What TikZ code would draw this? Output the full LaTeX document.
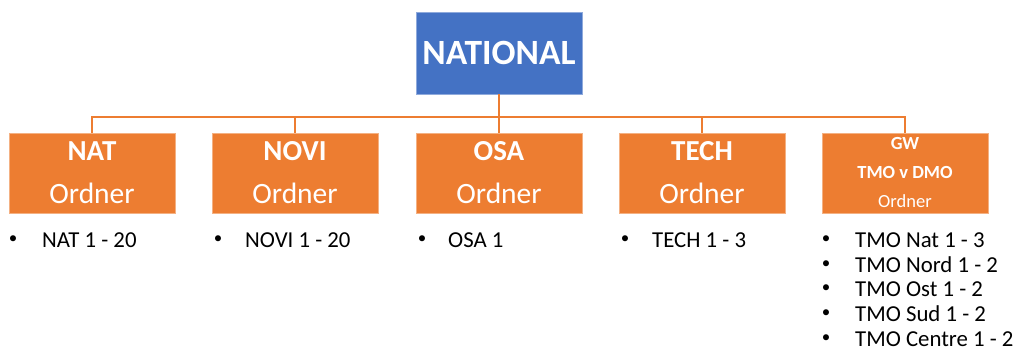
\documentclass[tikz,border=0pt]{standalone}
\usepackage{fontspec}
\setmainfont{Carlito}
\definecolor{orng}{HTML}{ED7D31}
\definecolor{blu}{HTML}{4472C4}
\begin{document}
\begin{tikzpicture}[x=1pt,y=-1pt,
  topbox/.style={fill=blu,draw=blu!60!white,line width=0.8pt,minimum width=166pt,minimum height=82pt,inner sep=0pt},
  subbox/.style={fill=orng,draw=orng!60!white,line width=0.8pt,minimum width=166pt,minimum height=80pt,inner sep=0pt},
  conn/.style={draw=orng,line width=1.5pt},
  head/.style={text=white,font=\bfseries\fontsize{29}{31}\selectfont,inner sep=0pt},
  sub/.style={text=white,font=\fontsize{29.5}{31}\selectfont,inner sep=0pt},
  smallhead/.style={text=white,font=\bfseries\fontsize{18.5}{20}\selectfont,inner sep=0pt},
  smallsub/.style={text=white,font=\fontsize{18.5}{20}\selectfont,inner sep=0pt},
  bul/.style={font=\fontsize{17}{19}\selectfont,inner sep=0pt,anchor=center},
  item/.style={font=\fontsize{22.8}{24}\selectfont,inner sep=0pt,anchor=west}
]
\useasboundingbox (0,0) rectangle (1023,363);
% top box
\node[topbox] (national) at (499,53) {};
\node[text=white,font=\bfseries\fontsize{35.5}{38}\selectfont,inner sep=0pt] (nationaltxt) at (499,53) {NATIONAL};
% sub boxes
\node[subbox] (nat)  at (92,173) {};
\node[subbox] (novi) at (295,173) {};
\node[subbox] (osa)  at (499,173) {};
\node[subbox] (tech) at (702,173) {};
\node[subbox] (gw)   at (905,173) {};
% connectors
\coordinate (junc) at (499,117);
\draw[conn] (national.south) -- (junc);
\draw[conn] (nat.north) |- (junc);
\draw[conn] (novi.north) |- (junc);
\draw[conn] (osa.north) -- (junc);
\draw[conn] (tech.north) |- (junc);
\draw[conn] (gw.north) |- (junc);
% box texts
\node[head] (natH) at (92,151) {NAT};
\node[sub]  (natS) at (92,193) {Ordner};
\node[head] (noviH) at (295,151) {NOVI};
\node[sub]  (noviS) at (295,193) {Ordner};
\node[head] (osaH) at (499,151) {OSA};
\node[sub]  (osaS) at (499,193) {Ordner};
\node[head] (techH) at (702,151) {TECH};
\node[sub]  (techS) at (702,193) {Ordner};
\node[smallhead] (gwA) at (905,143) {GW};
\node[smallhead] (gwB) at (905,172) {TMO v DMO};
\node[smallsub]  (gwC) at (905,201) {Ordner};
% bullet lists
\node[bul] (b1) at (13,240) {•};
\node[item] (i1) at (42,240) {NAT 1 - 20};
\node[bul] (b2) at (218,240) {•};
\node[item] (i2) at (245,240) {NOVI 1 - 20};
\node[bul] (b3) at (422,240) {•};
\node[item] (i3) at (448,240) {OSA 1};
\node[bul] (b4) at (625,240) {•};
\node[item] (i4) at (652,240) {TECH 1 - 3};
\node[bul] (b5a) at (826,240) {•};
\node[item] (i5a) at (855,240) {TMO Nat 1 - 3};
\node[bul] (b5b) at (826,265) {•};
\node[item] (i5b) at (855,265) {TMO Nord 1 - 2};
\node[bul] (b5c) at (826,289) {•};
\node[item] (i5c) at (855,289) {TMO Ost 1 - 2};
\node[bul] (b5d) at (826,314) {•};
\node[item] (i5d) at (855,314) {TMO Sud 1 - 2};
\node[bul] (b5e) at (826,339) {•};
\node[item] (i5e) at (855,339) {TMO Centre 1 - 2};
\end{tikzpicture}
\end{document}
